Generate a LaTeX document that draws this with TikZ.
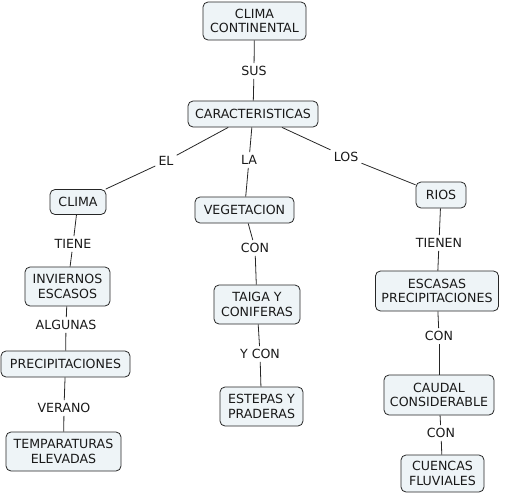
\documentclass[tikz,border=0pt]{standalone}
\usepackage{fontspec}
\setmainfont{DejaVu Sans}
\usetikzlibrary{calc}

\begin{document}
\begin{tikzpicture}[
  x=1pt, y=-1pt,
  %% caixas de conceito
  cbox/.style={
    rectangle, draw=black!85, line width=0.8pt, rounded corners=5pt,
    fill=cfill, align=center, inner xsep=6pt, inner ysep=5pt,
    font=\fontsize{12.6}{14.5}\selectfont, text=black!90
  },
  %% frases de ligacao
  lbl/.style={
    inner sep=3pt, align=center,
    font=\fontsize{12.6}{14.5}\selectfont, text=black!90
  },
  %% linhas
  lnk/.style={draw=black!85, line width=0.8pt}
]
\definecolor{cfill}{HTML}{EEF4F7}
\useasboundingbox (0,0) rectangle (507,496);

%% ================================================================
%% RAIZ
%% ================================================================
\node[cbox, minimum width=103pt, minimum height=38pt] (clicont) at (254.5,21) {CLIMA\\CONTINENTAL};
\node[lbl] (sus) at (254,71) {SUS};
\node[cbox, minimum width=130pt, minimum height=26pt] (carac) at (253,114) {CARACTERISTICAS};

\draw[lnk] (clicont) -- (sus);
\draw[lnk] (sus) -- (carac);

%% ================================================================
%% RAMO ESQUERDO — CLIMA
%% ================================================================
\node[lbl] (el) at (166,161) {EL};
\node[cbox, minimum width=56pt, minimum height=25pt] (clima) at (78,202) {CLIMA};
\node[lbl] (tiene) at (73,244) {TIENE};
\node[cbox, minimum width=85pt, minimum height=39pt] (invier) at (67.5,286.5) {INVIERNOS\\ESCASOS};
\node[lbl] (algunas) at (66,325) {ALGUNAS};
\node[cbox, minimum width=129pt, minimum height=26pt] (precip) at (65.5,364) {PRECIPITACIONES};
\node[lbl] (verano) at (64,408) {VERANO};
\node[cbox, minimum width=115pt, minimum height=39pt] (temper) at (63.5,451.5) {TEMPARATURAS\\ELEVADAS};

\draw[lnk] (carac) -- (el);
\draw[lnk] (el) -- (clima);
\draw[lnk] (clima) -- (tiene);
\draw[lnk] (tiene) -- (invier);
\draw[lnk] (invier) -- (algunas);
\draw[lnk] (algunas) -- (precip);
\draw[lnk] (precip) -- (verano);
\draw[lnk] (verano) -- (temper);

%% ================================================================
%% RAMO CENTRAL — VEGETACION
%% ================================================================
\node[lbl] (la) at (249,160) {LA};
\node[cbox, minimum width=99pt, minimum height=26pt] (veget) at (244.5,210) {VEGETACION};
\node[lbl] (con1) at (255,248) {CON};
\node[cbox, minimum width=86pt, minimum height=39pt] (taiga) at (257,304.5) {TAIGA Y\\CONIFERAS};
\node[lbl] (ycon) at (260,354) {Y CON};
\node[cbox, minimum width=83pt, minimum height=39pt] (estep) at (261.5,406.5) {ESTEPAS Y\\PRADERAS};

\draw[lnk] (carac) -- (la);
\draw[lnk] (la) -- (veget);
\draw[lnk] (veget) -- (con1);
\draw[lnk] (con1) -- (taiga);
\draw[lnk] (taiga) -- (ycon);
\draw[lnk] (ycon) -- (estep);

%% ================================================================
%% RAMO DIREITO — RIOS
%% ================================================================
\node[lbl] (los) at (346,157) {LOS};
\node[cbox, minimum width=50pt, minimum height=26pt] (rios) at (441,195) {RIOS};
\node[lbl] (tienen) at (439,243) {TIENEN};
\node[cbox, minimum width=122pt, minimum height=40pt] (escas) at (437,291) {ESCASAS\\PRECIPITACIONES};
\node[lbl] (con2) at (439,336) {CON};
\node[cbox, minimum width=110pt, minimum height=40pt] (caudal) at (439,395) {CAUDAL\\CONSIDERABLE};
\node[lbl] (con3) at (441,433) {CON};
\node[cbox, minimum width=83pt, minimum height=37pt] (cuenc) at (442.5,473.5) {CUENCAS\\FLUVIALES};

\draw[lnk] (carac) -- (los);
\draw[lnk] (los) -- (rios);
\draw[lnk] (rios) -- (tienen);
\draw[lnk] (tienen) -- (escas);
\draw[lnk] (escas) -- (con2);
\draw[lnk] (con2) -- (caudal);
\draw[lnk] (caudal) -- (con3);
\draw[lnk] (con3) -- (cuenc);

\end{tikzpicture}
\end{document}
